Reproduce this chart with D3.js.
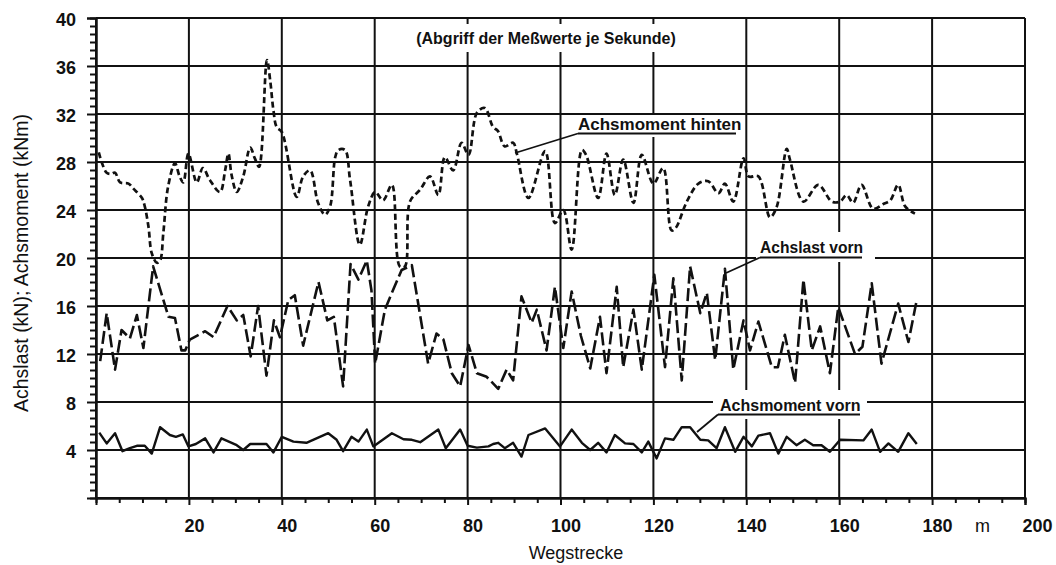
<!DOCTYPE html>
<html><head><meta charset="utf-8">
<script src="https://cdn.jsdelivr.net/npm/d3@7"></script>
<style>
body{margin:0;background:#fff;}
svg{display:block;background:#fff;}
text{fill:#111;}
</style>
</head><body>
<svg id="c" width="1056" height="565"></svg>
<script>
// ---- data ----
const yTickValues = [4, 8, 12, 16, 20, 24, 28, 32, 36, 40];
const xTickValues = [20, 40, 60, 80, 100, 120, 140, 160, 180, 200];
const xUnitLabel = "m";
const yTitle = "Achslast (kN); Achsmoment (kNm)";
const xTitle = "Wegstrecke";
const noteText = "(Abgriff der Meßwerte je Sekunde)";
const seriesNames = ["Achsmoment hinten", "Achslast vorn", "Achsmoment vorn"];

// Achsmoment hinten (kNm)
const hintenM = [0.6,1.3,2.3,3.2,4.1,5.2,7,8,9.9,10.5,11.3,12,13.1,13.8,14.5,15.5,17,18,18.8,19.9,21.7,23,24.5,26.7,27.8,28.5,29.2,30.3,31.7,33.2,34.2,35.1,36.8,37.5,38.2,38.9,40,43.2,44.6,46.1,47.8,49.3,50.4,51.5,52.2,53.6,54.7,56.8,58.6,60.1,61.8,63.7,65.4,66.5,67.6,69.8,71.9,73.7,75.1,76.9,78.7,80.2,82,83.7,85.5,86.5,88,89.8,90.6,93.1,96.7,98.8,100.6,102.4,104.6,105.5,108.1,109.9,111.7,113.5,115.7,117.5,120,122.1,123.9,124.8,127.2,129.7,131.8,134,135.4,137.2,139.4,140.5,142.6,145.1,146.5,148.7,149.4,152.3,155.5,158.4,160.2,161.6,163,164.8,167.3,169.5,171,172.7,174.2,176.3];
const hintenVal = [28.8,27.9,27.1,27.0,27.1,26.3,26.2,25.8,25,24.3,22.6,20.4,19.6,19.8,22.1,25.9,27.9,26.8,26.3,28.7,26.3,27.5,26.5,25.5,27.3,28.7,26.9,25.5,26.8,29.2,28.3,27.6,36.5,34.8,32.3,30.9,30.5,25.1,26.8,27.3,24.6,23.6,24.3,28.4,29,29,26.5,21.1,24.3,25.5,24.8,26.1,19.3,19.3,24.7,25.7,26.8,25.25,28.4,27.3,29.6,28.6,32.1,32.5,30.9,30.6,29.3,29.6,28.7,25,28.9,22.9,24,20.7,29,28.6,25,28.7,25.25,28.2,24.6,28.6,26.2,27.5,22.3,22.5,24.7,26.2,26.4,25.4,26.2,24.7,28.3,26.8,26.8,23.4,24.2,29.1,28.2,24.7,26.1,24.7,24.7,25.25,24.6,26.1,24.1,24.5,24.8,26.1,24.3,23.7];

// Achslast vorn (kN)
const lastM = [0.9,2.3,4.1,5.5,7.3,8.8,10.2,12.3,15.6,17,18.4,19.2,20.2,23.5,25.3,28.3,30.3,31.7,33.3,34.9,36.7,38.3,39.6,41.4,42.8,44.6,47.9,49.8,51.2,53.2,54.8,56.5,58.3,59.3,60.1,62.2,63.7,65.8,68,71.5,73.3,74.8,76.6,78.4,80.2,82,84.1,86.6,88.4,89.8,91.6,93.8,94.9,97,98.8,100.6,102.4,104.4,106.4,108.5,109.9,112.1,113.5,115.7,117.5,120.2,122.5,124.3,126.1,127.9,130.1,131.5,133.3,135.4,137.2,139.4,140.8,142.6,145.5,146.8,148.3,150.5,152.3,154.1,155.9,158,159.8,163.4,165,167,169.1,172.7,174.9,176.7];
const lastVal = [11.4,15.4,10.7,14,13.3,15.25,12.5,19.3,15.1,15,12.3,12.3,13.2,13.9,13.4,16,14.8,15.25,11.8,16,10.2,14.8,13.4,16.5,16.9,12.7,18,14.8,15.1,9.3,19.5,18.2,19.8,17.3,11.2,15.7,17.1,19,19.4,11.2,13.7,13.2,10.4,9.3,12.75,10.4,10.1,9.1,10.7,9.8,16.8,14.6,15.7,12.3,17.6,12.5,17.2,13.5,10.8,15.1,10.4,17.6,10.9,15.7,10.7,18.6,10.9,18.3,9.8,19.3,15.4,17.1,11.5,19.1,10.7,14.8,12.3,14.7,10.9,10.9,13.6,9.6,18.2,12.3,14.3,10.4,15.9,12,12.6,17.9,11.2,16.2,13,16.5];

// Achsmoment vorn (kNm)
const vornM = [0.7,2.3,4.1,5.7,7.3,8.8,10.5,12,13.8,15.9,17.2,18.7,19.9,21.5,23.5,25.3,27,30.3,31.7,33.2,36.7,38.2,40,42.5,45.3,50,51.8,53.2,55,56.5,58.3,59.7,63.7,66.2,68,69.8,73.7,75.3,78.4,80,82,84.5,85.5,86.6,88,89.8,91.6,93.1,96.7,99.9,102.4,104.6,106.4,108.1,109.9,111.7,113.9,115.7,117.5,118.9,120.7,122.5,124.3,126.1,127.9,130.1,131.8,133.6,135.4,137.6,139.4,141.2,142.6,145.1,146.9,148.7,150.8,152.6,154.4,156.2,158,160.2,165.2,167,168.8,170.6,172.7,174.9,176.7];
const vornVal = [5.45,4.55,5.4,3.9,4.15,4.35,4.35,3.7,5.9,5.25,5.1,5.3,4.3,4.5,4.97,3.8,4.97,4.4,4,4.5,4.5,3.8,5.1,4.7,4.6,5.4,4.85,3.9,5.1,4.7,5.7,4.3,5.4,4.9,4.85,4.65,5.7,4.15,5.7,4.35,4.2,4.3,4.5,4.6,4.15,4.6,3.45,5.25,5.8,4.3,5.7,4.6,4,4.6,3.8,5.25,4.55,4.5,3.8,4.7,3.3,4.97,4.85,5.9,5.9,4.85,4.8,4.15,5.9,3.85,5.1,4.3,5.2,5.4,3.7,5.1,4.4,4.85,4.4,4.4,3.85,4.85,4.8,5.7,3.85,4.55,3.85,5.4,4.5];

// ---- drawing ----
const svg = d3.select("#c");
const x = d3.scaleLinear().domain([0, 200]).range([96, 1025]);
const y = d3.scaleLinear().domain([0, 40]).range([498, 18]);
const ink = "#111";
const FONT = "'Liberation Sans', Arial, sans-serif";

// grid
const grid = svg.append("g");
grid.selectAll("line.h").data([0].concat(yTickValues)).join("line")
  .attr("x1", x(0)).attr("x2", x(200))
  .attr("y1", d => y(d)).attr("y2", d => y(d))
  .attr("stroke", ink).attr("stroke-width", 2);
grid.selectAll("line.v").data([0].concat(xTickValues)).join("line")
  .attr("x1", d => x(d)).attr("x2", d => x(d))
  .attr("y1", y(40)).attr("y2", y(0))
  .attr("stroke", ink).attr("stroke-width", 2);

// minor ticks via axes
const yMinor = d3.range(0, 40.0001, 2/3).filter(v => Math.abs(v/4 - Math.round(v/4)) > 0.01);
const xMinor = d3.range(5, 200, 5).filter(v => v % 20 !== 0);
const yMinorAxis = svg.append("g").attr("transform", `translate(${x(0)},0)`)
  .call(d3.axisLeft(y).tickValues(yMinor).tickSize(6).tickFormat(""));
const xMinorAxis = svg.append("g").attr("transform", `translate(0,${y(0)})`)
  .call(d3.axisBottom(x).tickValues(xMinor).tickSize(5).tickFormat(""));

// major axes with labels
const yAxis = svg.append("g").attr("transform", `translate(${x(0)},0)`)
  .call(d3.axisLeft(y).tickValues(yTickValues).tickSize(9).tickPadding(11).tickFormat(d3.format("d")));
const xAxis = svg.append("g").attr("transform", `translate(0,${y(0)})`)
  .call(d3.axisBottom(x).tickValues(xTickValues).tickSize(7).tickPadding(14).tickFormat(d3.format("d")));
[yMinorAxis, xMinorAxis, yAxis, xAxis].forEach(a => {
  a.select(".domain").attr("stroke", ink).attr("stroke-width", 2);
  a.selectAll(".tick line").attr("stroke", ink).attr("stroke-width", 2);
});
yAxis.selectAll(".tick text").attr("font-family", FONT).attr("font-weight", "bold")
  .attr("font-size", 18).attr("fill", ink).attr("dy", "0.4em");
xAxis.selectAll(".tick text").attr("font-family", FONT).attr("font-weight", "bold")
  .attr("font-size", 18).attr("fill", ink).attr("dx", 5);
xAxis.selectAll(".tick text").filter(d => d === 200).attr("dx", 12);

// unit "m"
svg.append("text").attr("x", x(190) + 4).attr("y", 532)
  .attr("text-anchor", "middle").attr("font-family", FONT).attr("font-size", 18).text(xUnitLabel);

// axis titles
svg.append("text").attr("transform", "translate(28,263) rotate(-90)")
  .attr("text-anchor", "middle").attr("font-family", FONT).attr("font-size", 19.5).text(yTitle);
svg.append("text").attr("x", 576).attr("y", 559)
  .attr("text-anchor", "middle").attr("font-family", FONT).attr("font-size", 18).text(xTitle);

// white label boxes (interrupt the grid)
const boxes = svg.append("g");
boxes.append("rect").attr("x", 405).attr("y", 24).attr("width", 285).attr("height", 28).attr("fill", "#fff");
boxes.append("rect").attr("x", 576).attr("y", 115).attr("width", 164).attr("height", 22).attr("fill", "#fff");
boxes.append("rect").attr("x", 756).attr("y", 232).attr("width", 119).attr("height", 30).attr("fill", "#fff");
boxes.append("rect").attr("x", 713).attr("y", 390).attr("width", 154).attr("height", 29).attr("fill", "#fff");

// note
svg.append("text").attr("x", 546).attr("y", 44).attr("text-anchor", "middle")
  .attr("font-family", FONT).attr("font-weight", "bold").attr("font-size", 16).text(noteText);

// series
const mk = (ms, vs) => ms.map((m, i) => [m, vs[i]]);
const lineLin = d3.line().x(d => x(d[0])).y(d => y(d[1]));
const lineSmooth = d3.line().x(d => x(d[0])).y(d => y(d[1])).curve(d3.curveCatmullRom.alpha(0.5));
const plot = svg.append("g").attr("fill", "none").attr("stroke", ink).attr("stroke-linejoin", "round");
plot.append("path").attr("d", lineSmooth(mk(hintenM, hintenVal)))
  .attr("stroke-width", 2.7).attr("stroke-dasharray", "6,3.5");
plot.append("path").attr("d", lineLin(mk(lastM, lastVal)))
  .attr("stroke-width", 2.6).attr("stroke-dasharray", "13,4.5");
plot.append("path").attr("d", lineLin(mk(vornM, vornVal)))
  .attr("stroke-width", 2.4);

// series labels with leaders and underlines
const lab = svg.append("g").attr("font-family", FONT).attr("font-weight", "bold");
const labels = [
  {name: seriesNames[0], fs: 17, tx: 578, ty: 130, ul: [578, 736, 133.5], lead: [515, 153, 578, 133.5]},
  {name: seriesNames[1], fs: 15.6, tx: 760, ty: 253, ul: [760, 862, 257.5], lead: [726, 273, 760, 257.5]},
  {name: seriesNames[2], fs: 16, tx: 720, ty: 411, ul: [718, 860, 414.5], lead: [697, 432, 718, 414.5]}
];
labels.forEach(l => {
  lab.append("text").attr("x", l.tx).attr("y", l.ty).attr("font-size", l.fs).text(l.name);
  lab.append("line").attr("x1", l.ul[0]).attr("x2", l.ul[1]).attr("y1", l.ul[2]).attr("y2", l.ul[2])
    .attr("stroke", ink).attr("stroke-width", 1.8);
  lab.append("line").attr("x1", l.lead[0]).attr("y1", l.lead[1]).attr("x2", l.lead[2]).attr("y2", l.lead[3])
    .attr("stroke", ink).attr("stroke-width", 1.8);
});
</script>
</body></html>
